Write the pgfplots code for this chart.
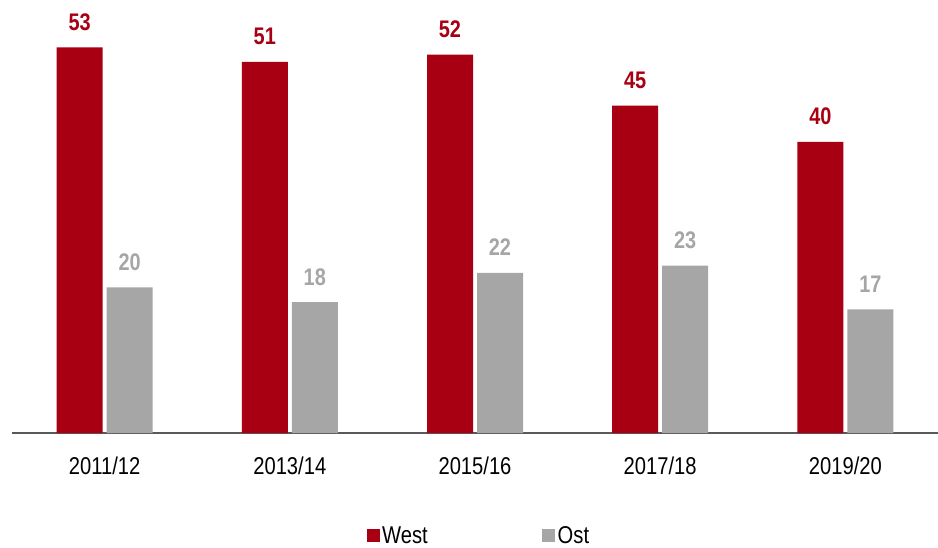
\documentclass[border=0pt]{standalone}
\usepackage{fontspec}
\setmainfont{Liberation Sans}[FakeStretch=0.83]
\usepackage{pgfplots}
\pgfplotsset{compat=1.18}
\definecolor{west}{RGB}{168,0,18}
\definecolor{ost}{RGB}{166,166,166}
\definecolor{axisgray}{RGB}{89,89,89}
\begin{document}
\begin{tikzpicture}
\useasboundingbox (0,0) rectangle (938pt,547pt);
\begin{axis}[
  at={(12pt,114pt)}, anchor=south west,
  scale only axis, width=926pt, height=433pt,
  xmin=-0.5, xmax=4.5, ymin=0, ymax=59.5,
  hide y axis,
  axis x line*=bottom,
  x axis line style={draw=axisgray, line width=1.5pt, -},
  xtick={0,1,2,3,4},
  xticklabels={2011/12,2013/14,2015/16,2017/18,2019/20},
  major tick length=0pt,
  font=\fontsize{24.3}{28}\selectfont,
  xticklabel style={anchor=base, yshift=-41pt, text=black},
  /pgf/number format/assume math mode=true,
  legend columns=2,
  legend style={at={(axis description cs:0.383,-0.237)}, anchor=west, draw=none, inner sep=0pt, outer sep=0pt,
    /tikz/every even column/.append style={column sep=112pt},
    nodes={inner sep=2.5pt}, font=\fontsize{24.3}{28}\selectfont},
  legend image code/.code={\fill[#1,draw=none] (0pt,-6.5pt) rectangle (13pt,6.5pt);},
  clip=false,
]
\addplot[ybar, bar width=46pt, bar shift=-25pt, fill=west, draw=none,
  nodes near coords,
  nodes near coords style={anchor=base, xshift=-25pt, yshift=17pt, text=west, font=\fontsize{24}{28}\selectfont\bfseries}]
  coordinates {(0,53) (1,51) (2,52) (3,45) (4,40)};
\addlegendentry{West}
\addplot[ybar, bar width=46pt, bar shift=25pt, fill=ost, draw=none,
  nodes near coords,
  nodes near coords style={anchor=base, xshift=25pt, yshift=17pt, text=ost, font=\fontsize{24}{28}\selectfont\bfseries}]
  coordinates {(0,20) (1,18) (2,22) (3,23) (4,17)};
\addlegendentry{Ost}
\end{axis}
\end{tikzpicture}
\end{document}
